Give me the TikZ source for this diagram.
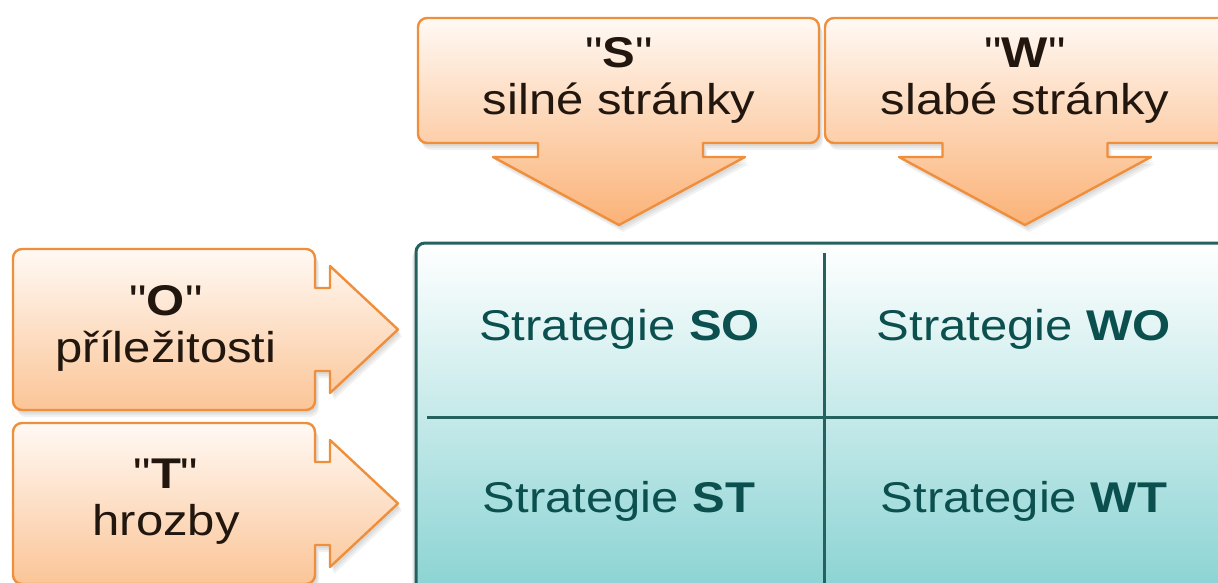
\documentclass[tikz,border=0pt]{standalone}
\usepackage{fontspec}
\setmainfont{Liberation Sans}[Ligatures=TeXOff]
\definecolor{orline}{HTML}{EF8E3B}
\definecolor{ortop}{HTML}{FFF9F4}
\definecolor{orbotA}{HTML}{FBB277}
\definecolor{orbotB}{HTML}{FBC597}
\definecolor{lbltext}{HTML}{22170F}
\definecolor{celltext}{HTML}{0B4F4F}
\definecolor{tealline}{HTML}{25615F}
\definecolor{tealbot}{HTML}{88D2D2}
\newcommand\stretchtxt[1]{\scalebox{1.14}[1]{#1}}
\newcommand\sq{\char34\relax}
\def\pathS{(427,18) -- (810,18) arc[start angle=-90,end angle=0,radius=9] -- (819,134) arc[start angle=0,end angle=90,radius=9] -- (703,143) -- (703,157) -- (745,157) -- (619,225) -- (493,157) -- (538,157) -- (538,143) -- (427,143) arc[start angle=90,end angle=180,radius=9] -- (418,27) arc[start angle=180,end angle=270,radius=9] -- cycle}
\def\pathW{(834,18) -- (1240,18) -- (1240,143) -- (1107.5,143) -- (1107.5,157) -- (1151,157) -- (1025,225) -- (899,157) -- (942.5,157) -- (942.5,143) -- (834,143) arc[start angle=90,end angle=180,radius=9] -- (825,27) arc[start angle=180,end angle=270,radius=9] -- cycle}
\def\pathO{(22,249) -- (306,249) arc[start angle=-90,end angle=0,radius=9] -- (315,288) -- (330,288) -- (330,266) -- (398,329.5) -- (330,393) -- (330,371) -- (315,371) -- (315,401) arc[start angle=0,end angle=90,radius=9] -- (22,410) arc[start angle=90,end angle=180,radius=9] -- (13,258) arc[start angle=180,end angle=270,radius=9] -- cycle}
\def\pathT{(22,423) -- (306,423) arc[start angle=-90,end angle=0,radius=9] -- (315,462) -- (330,462) -- (330,440) -- (398,503.5) -- (330,567) -- (330,545) -- (315,545) -- (315,575) arc[start angle=0,end angle=90,radius=9] -- (22,584) arc[start angle=90,end angle=180,radius=9] -- (13,432) arc[start angle=180,end angle=270,radius=9] -- cycle}
\def\pathM{[rounded corners=9pt] (416,243) rectangle (1240,600)}
\begin{document}
\begin{tikzpicture}[x=1pt,y=-1pt,
  callout/.style={draw=orline, line width=2.4pt, line join=round, top color=ortop},
  shadowA/.style={fill=black, opacity=0.05},
  lbl/.style={text=lbltext, inner sep=0pt, anchor=base, font=\fontsize{43}{47}\selectfont},
  cell/.style={text=celltext, inner sep=0pt, anchor=base, font=\fontsize{43}{47}\selectfont},
  gridline/.style={draw=tealline, line width=3pt},
]
\useasboundingbox (0,0) rectangle (1218,583);
% shadows
\foreach \dx/\dy in {2/3,3/5,4/7}{
  \fill[shadowA, shift={(\dx,\dy)}] \pathS;
  \fill[shadowA, shift={(\dx,\dy)}] \pathW;
  \fill[shadowA, shift={(\dx,\dy)}] \pathO;
  \fill[shadowA, shift={(\dx,\dy)}] \pathT;
  \fill[shadowA, shift={(-\dx,\dy)}] \pathM;
}
% matrix
\shadedraw[top color=white, bottom color=tealbot, draw=tealline, line width=3pt] \pathM;
\coordinate (hl) at (427,417);
\coordinate (hr) at (1240,417);
\coordinate (vt) at (824,253);
\coordinate (vb) at (824,590);
\draw[gridline] (hl) -- (hr);
\draw[gridline] (vt) -- (vb);
% callouts
\shadedraw[callout, bottom color=orbotA] \pathS;
\shadedraw[callout, bottom color=orbotA] \pathW;
\shadedraw[callout, bottom color=orbotB] \pathO;
\shadedraw[callout, bottom color=orbotB] \pathT;
% labels
\node[lbl] (sq) at (619,68) {\stretchtxt{\sq\textbf{S}\sq}};
\node[lbl] (sn) at (619,115) {\stretchtxt{silné stránky}};
\node[lbl] (wq) at (1025,68) {\stretchtxt{\sq\textbf{W}\sq}};
\node[lbl] (wn) at (1025,115) {\stretchtxt{slabé stránky}};
\node[lbl] (oq) at (166,315) {\stretchtxt{\sq\textbf{O}\sq}};
\node[lbl] (on) at (166,362) {\stretchtxt{příležitosti}};
\node[lbl] (tq) at (166,488) {\stretchtxt{\sq\textbf{T}\sq}};
\node[lbl] (tn) at (166,535) {\stretchtxt{hrozby}};
% cells
\node[cell] (so) at (619.5,340) {\stretchtxt{Strategie \textbf{SO}}};
\node[cell] (wo) at (1024,340) {\stretchtxt{Strategie \textbf{WO}}};
\node[cell] (st) at (619,512) {\stretchtxt{Strategie \textbf{ST}}};
\node[cell] (wt) at (1024,512) {\stretchtxt{Strategie \textbf{WT}}};
\end{tikzpicture}
\end{document}
